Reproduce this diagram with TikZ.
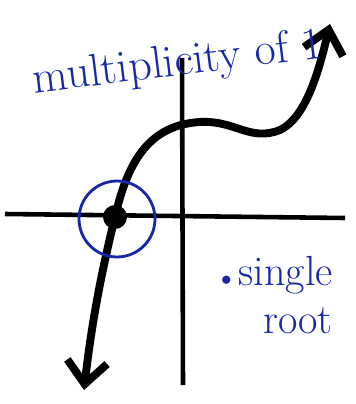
\documentclass[tikz,border=0pt]{standalone}
\usepackage{fontspec}
\usepackage{tikz}
\usetikzlibrary{arrows.meta}

\definecolor{penblue}{RGB}{22,40,168}

\begin{document}
\begin{tikzpicture}[
    x=0.02cm, y=-0.02cm,
    axis/.style={line width=2.6pt},
    graph/.style={line width=4.5pt, line cap=round, line join=round,
      {Straight Barb[length=4.5mm, width=8mm, line width=4.5pt]}-{Straight Barb[length=4.5mm, width=8mm, line width=4.5pt]}},
    note/.style={text=penblue, inner sep=0pt, font=\fontsize{26}{28}\selectfont}
  ]
    \useasboundingbox (0,0) rectangle (355,404);

    % axes
    \draw[axis] (5,214) -- (345,218);
    \draw[axis] (182,58) -- (183,385);

    % the polynomial
    \draw[graph] (84,390) .. controls (92,320) and (102,270) .. (115,217)
      .. controls (128,160) and (150,125) .. (200,122)
      .. controls (235,120) and (250,142) .. (280,130)
      .. controls (305,118) and (318,75) .. (330,24);

    % root
    \node[circle, draw=penblue, line width=1.6pt, inner sep=0pt, minimum size=1.52cm] (ring) at (117,219) {};
    \fill (115,217) circle (12);

    % labels
    \node[note, rotate=7] (title) at (178,64) {multiplicity of 1};
    \node[note, align=right, font=\fontsize{24}{27}\selectfont] (kind) at (277,295)
      {{\fontsize{12}{12}\selectfont$\bullet$}\,single\\root};
  \end{tikzpicture}
\end{document}
